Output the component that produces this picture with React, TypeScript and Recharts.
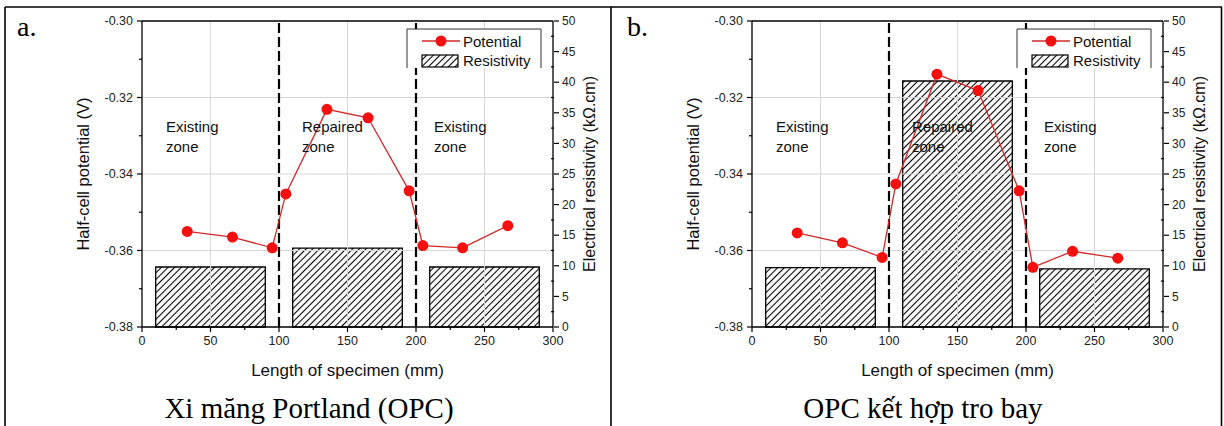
import React from 'react';
import { ComposedChart, Line, XAxis, YAxis, ReferenceLine, ReferenceArea } from 'recharts';

// measuring points along the specimen (mm)
const positions = [33, 66, 95, 105, 135, 165, 195, 205, 234, 267];
// half-cell potential (V)
const potentialOPC = [-0.355, -0.3565, -0.3593, -0.3452, -0.3231, -0.3253, -0.3444, -0.3587, -0.3593, -0.3535];
const potentialFA = [-0.3554, -0.358, -0.3618, -0.3426, -0.3139, -0.3182, -0.3444, -0.3644, -0.3602, -0.362];

// resistivity per zone (kΩ.cm)
const zoneStart = [10, 110, 210];
const zoneEnd = [90, 190, 290];
const resistivityOPC = [9.8, 12.9, 9.8];
const resistivityFA = [9.7, 40.2, 9.5];
const zoneBoundaries = [100, 200];

const xMajorTicks = [0, 50, 100, 150, 200, 250, 300];
const xMinorTicks = [25, 75, 125, 175, 225, 275];
const leftMajorTicks = [-0.38, -0.36, -0.34, -0.32, -0.3];
const leftMinorTicks = [-0.37, -0.35, -0.33, -0.31];
const rightMajorTicks = [0, 5, 10, 15, 20, 25, 30, 35, 40, 45, 50];
const rightMinorTicks = [2.5, 7.5, 12.5, 17.5, 22.5, 27.5, 32.5, 37.5, 42.5, 47.5];
const gridY = [-0.36, -0.34, -0.32];
const gridX = [50, 150, 250];

const TS = 5;
const TM = 4;
const SANS = '"Liberation Sans", Arial, sans-serif';
const SERIF = '"Liberation Serif", "Times New Roman", serif';
const LINE_RED = '#d12a2a';
const DOT_RED = '#f50f0f';

const isIn = (list: number[], v: number) => list.some((t) => Math.abs(t - v) < 1e-9);
const byValue = (a: number, b: number) => a - b;

function LeftTick(props: any) {
  const { x, y, payload } = props;
  const major = isIn(leftMajorTicks, payload.value);
  const ax = x + TS + TM;
  return (
    <g>
      <line x1={ax} x2={ax - (major ? 5 : 3)} y1={y} y2={y} stroke="#000" strokeWidth={1.2} />
      {major && (
        <text x={x} y={y} dy="0.35em" textAnchor="end" fontSize={12.5} fill="#222" fontFamily={SANS}>
          {payload.value.toFixed(2)}
        </text>
      )}
    </g>
  );
}

function RightTick(props: any) {
  const { x, y, payload } = props;
  const major = isIn(rightMajorTicks, payload.value);
  const ax = x - TS - TM + 1;
  return (
    <g>
      <line x1={ax} x2={major ? ax + 5 : ax - 3} y1={y} y2={y} stroke="#000" strokeWidth={1.2} />
      {major && (
        <text x={x} y={y} dy="0.35em" textAnchor="start" fontSize={12} fill="#222" fontFamily={SANS}>
          {payload.value}
        </text>
      )}
    </g>
  );
}

function BottomTick(props: any) {
  const { x, y, payload } = props;
  const major = isIn(xMajorTicks, payload.value);
  const ay = y - TS - TM;
  return (
    <g>
      <line x1={x} x2={x} y1={ay} y2={ay + (major ? 5 : 3)} stroke="#000" strokeWidth={1.2} />
      {major && (
        <text x={x} y={y} dy="0.75em" textAnchor="middle" fontSize={12.5} fill="#222" fontFamily={SANS}>
          {payload.value}
        </text>
      )}
    </g>
  );
}

function Panel({ id, left, letter, caption, captionX, potential, resistivity }: any) {
  const rows = positions.map((x, i) => ({ x, potential: potential[i] }));
  const hatch = `hatch-${id}`;
  return (
    <div style={{ position: 'absolute', left, top: 0, width: 610, height: 426 }}>
      <ComposedChart width={610} height={426} data={rows} margin={{ top: 21, right: 17, bottom: 69, left: 82 }}>
        <defs>
          <pattern id={hatch} patternUnits="userSpaceOnUse" width={4.7} height={4.7} patternTransform="rotate(45)">
            <line x1={2.35} y1={0} x2={2.35} y2={4.7} stroke="#000" strokeWidth={1.1} />
          </pattern>
        </defs>
        <XAxis
          dataKey="x"
          type="number"
          domain={[0, 300]}
          allowDataOverflow
          ticks={[...xMajorTicks, ...xMinorTicks].sort(byValue)}
          interval={0}
          height={30}
          tickSize={TS}
          tickMargin={TM}
          tickLine={false}
          axisLine={{ stroke: '#000', strokeWidth: 1.3 }}
          tick={(p: any) => <BottomTick {...p} />}
        />
        <YAxis
          yAxisId="left"
          domain={[-0.38, -0.3]}
          allowDataOverflow
          ticks={[...leftMajorTicks, ...leftMinorTicks].sort(byValue)}
          interval={0}
          width={60}
          tickSize={TS}
          tickMargin={TM}
          tickLine={false}
          axisLine={{ stroke: '#000', strokeWidth: 1.3 }}
          tick={(p: any) => <LeftTick {...p} />}
        />
        <YAxis
          yAxisId="right"
          orientation="right"
          domain={[0, 50]}
          allowDataOverflow
          ticks={[...rightMajorTicks, ...rightMinorTicks].sort(byValue)}
          interval={0}
          width={40}
          tickSize={TS}
          tickMargin={TM}
          tickLine={false}
          axisLine={{ stroke: '#000', strokeWidth: 1.3 }}
          tick={(p: any) => <RightTick {...p} />}
        />
        {gridY.map((v) => (
          <ReferenceLine key={`gy${v}`} yAxisId="left" y={v} stroke="#d6d6d6" strokeWidth={1} />
        ))}
        {gridX.map((v) => (
          <ReferenceLine key={`gx${v}`} yAxisId="left" x={v} stroke="#d6d6d6" strokeWidth={1} />
        ))}
        <ReferenceLine yAxisId="left" y={-0.3} stroke="#000" strokeWidth={1.3} />
        {zoneStart.map((s, i) => (
          <ReferenceArea
            key={`z${i}`}
            yAxisId="right"
            x1={s}
            x2={zoneEnd[i]}
            y1={0}
            y2={resistivity[i]}
            fill={`url(#${hatch})`}
            fillOpacity={1}
            stroke="#000"
            strokeWidth={1.3}
            strokeOpacity={1}
          />
        ))}
        {zoneBoundaries.map((v) => (
          <ReferenceLine key={`b${v}`} yAxisId="left" x={v} stroke="#000" strokeWidth={2.2} strokeDasharray="10 4" />
        ))}
        <Line
          yAxisId="left"
          dataKey="potential"
          stroke={LINE_RED}
          strokeWidth={1.3}
          dot={{ r: 5.5, fill: DOT_RED, stroke: DOT_RED, strokeWidth: 0 }}
          isAnimationActive={false}
        />
      </ComposedChart>
      <svg width={610} height={426} style={{ position: 'absolute', left: 0, top: 0, pointerEvents: 'none' }}>
        <defs>
          <pattern id={`${hatch}-lg`} patternUnits="userSpaceOnUse" width={4.7} height={4.7} patternTransform="rotate(45)">
            <line x1={2.35} y1={0} x2={2.35} y2={4.7} stroke="#000" strokeWidth={1.1} />
          </pattern>
        </defs>
        <text x={17} y={36} fontSize={28} fontFamily={SERIF} fill="#000">{letter}</text>
        <g fontFamily={SANS} fontSize={15} fill="#111">
          <text x={166} y={132}>Existing</text>
          <text x={166} y={152}>zone</text>
          <text x={302} y={132}>Repaired</text>
          <text x={302} y={152}>zone</text>
          <text x={434} y={132}>Existing</text>
          <text x={434} y={152}>zone</text>
        </g>
        <g fontFamily={SANS} fill="#111">
          <text x={347.5} y={376} textAnchor="middle" fontSize={17}>Length of specimen (mm)</text>
          <text transform="translate(89,174) rotate(-90)" textAnchor="middle" fontSize={16.5}>Half-cell potential (V)</text>
          <text transform="translate(595,174) rotate(-90)" textAnchor="middle" fontSize={16}>Electrical resistivity (kΩ.cm)</text>
        </g>
        <text x={captionX} y={418} textAnchor="middle" fontSize={29} fontFamily={SERIF} fill="#000">{caption}</text>
        <rect x={407} y={29} width={134} height={39} fill="#fff" />
        <path d="M407,68 L407,29 L541,29 L541,68" fill="none" stroke="#333" strokeWidth={1} />
        <line x1={422} x2={460} y1={41} y2={41} stroke={LINE_RED} strokeWidth={1.3} />
        <circle cx={441} cy={41} r={5.5} fill={DOT_RED} />
        <text x={463} y={46.5} fontFamily={SANS} fontSize={15} fill="#111">Potential</text>
        <rect x={422} y={55} width={36} height={12} fill={`url(#${hatch}-lg)`} stroke="#000" strokeWidth={1.2} />
        <text x={463} y={66} fontFamily={SANS} fontSize={15} fill="#111">Resistivity</text>
      </svg>
    </div>
  );
}

export default function App() {
  return (
    <div style={{ position: 'fixed', left: 0, top: 0, width: 1224, height: 426, background: '#fff', overflow: 'hidden' }}>
      <Panel
        id="a"
        left={0}
        letter="a."
        caption="Xi măng Portland (OPC)"
        captionX={309}
        potential={potentialOPC}
        resistivity={resistivityOPC}
      />
      <Panel
        id="b"
        left={610}
        letter="b."
        caption="OPC kết hợp tro bay"
        captionX={313}
        potential={potentialFA}
        resistivity={resistivityFA}
      />
      <svg width={1224} height={426} style={{ position: 'absolute', left: 0, top: 0, pointerEvents: 'none' }}>
        <g stroke="#000" strokeWidth={1.6} fill="none">
          <line x1={5} x2={1222} y1={7} y2={7} />
          <line x1={5} x2={5} y1={7} y2={426} />
          <line x1={611} x2={611} y1={7} y2={426} />
          <line x1={1221.5} x2={1221.5} y1={7} y2={426} />
        </g>
      </svg>
    </div>
  );
}
